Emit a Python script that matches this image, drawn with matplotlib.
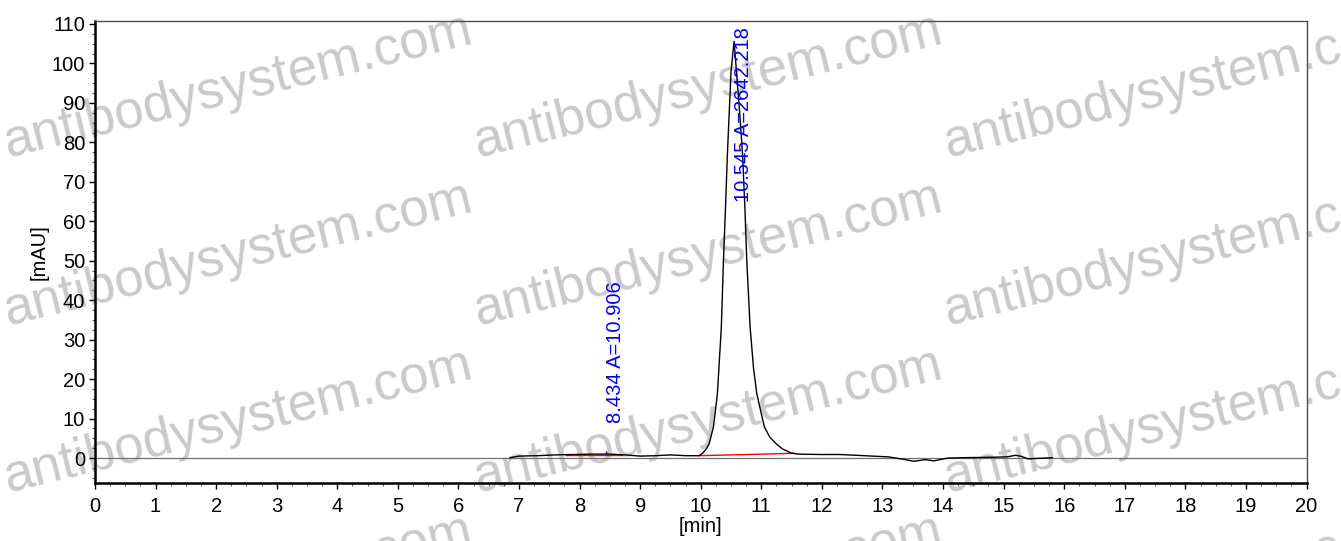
import matplotlib
matplotlib.use("Agg")
import matplotlib.pyplot as plt
from matplotlib.ticker import MultipleLocator

plt.rcParams['font.family'] = ['Liberation Sans', 'DejaVu Sans']

# chromatogram trace (min, mAU)
time_min = [6.85, 7.0, 7.3, 7.6, 7.9, 8.2, 8.5, 8.75, 9.0, 9.25, 9.5, 9.75, 9.97,
            10.03, 10.10, 10.14, 10.21, 10.275, 10.34, 10.375, 10.41, 10.44, 10.50, 10.55,
            10.60, 10.65, 10.69, 10.73, 10.76, 10.815, 10.87, 10.925, 11.05, 11.14, 11.24,
            11.35, 11.49, 11.6, 12.0, 12.3, 12.7, 13.1, 13.3, 13.52, 13.62, 13.7, 13.85,
            14.08, 14.35, 14.8, 15.05, 15.2, 15.3, 15.4, 15.67, 15.8]
signal = [0.1, 0.5, 0.6, 0.8, 0.9, 1.0, 1.0, 0.8, 0.5, 0.6, 0.8, 0.6, 0.6,
          1.2, 2.5, 3.7, 7.9, 16.3, 33.2, 50.0, 64.0, 77.0, 98.0, 105.6,
          96.0, 86.0, 77.0, 63.0, 50.0, 33.2, 23.0, 16.3, 7.9, 5.3, 3.7,
          2.3, 1.3, 1.0, 0.9, 0.9, 0.6, 0.3, -0.2, -0.8, -0.6, -0.4, -0.7,
          0.0, 0.1, 0.2, 0.3, 0.7, 0.4, -0.2, 0.0, 0.1]

# integration baselines (red)
base1_t = [7.77, 8.70]
base1_v = [0.9, 0.9]
base2_t = [9.97, 11.54]
base2_v = [0.6, 1.2]

# peak labels
peak_rt = [8.434, 10.545]
peak_area = ["10.906", "2642.218"]
label_y = [8.8, 65.0]
peak_top = [1.0, 105.6]

fig = plt.figure(figsize=(13.41, 5.41), dpi=100)
ax = fig.add_axes([0.0708, 0.1072, 0.9035, 0.854])
ax.set_facecolor('none')

# watermark tiles behind the axes
for xp in [8, 478, 948]:
    for yp in [-9, 157, 325, 492, 658]:
        fig.text(xp / 1341, 1 - yp / 541, "antibodysystem.com", fontsize=38,
                 color='#cacaca', rotation=13.8, rotation_mode='anchor',
                 ha='left', va='baseline', zorder=-1)

ax.axhline(0, color='#707070', lw=0.9, zorder=1)
ax.plot(time_min, signal, color='black', lw=1.0, zorder=3)
ax.plot(base1_t, base1_v, color='red', lw=1.0, zorder=2)
ax.plot(base2_t, base2_v, color='red', lw=1.0, zorder=2)
ax.vlines(peak_rt[0], peak_top[0], peak_top[0] + 0.9, color='blue', lw=1.0)

for rt, area, ly in zip(peak_rt, peak_area, label_y):
    ax.text(rt, ly, f"{rt:.3f} A={area}", rotation=90, color='blue',
            fontsize=14.5, ha='left', va='bottom', clip_on=False, zorder=4)

ax.set_xlim(0, 20)
ax.set_ylim(-6.32, 110.76)
ax.xaxis.set_major_locator(MultipleLocator(1))
ax.xaxis.set_minor_locator(MultipleLocator(0.25))
ax.yaxis.set_major_locator(MultipleLocator(10))
ax.yaxis.set_minor_locator(MultipleLocator(2.5))
ax.set_yticks(range(0, 111, 10))
ax.tick_params(axis='both', which='major', labelsize=14.5, length=4, width=1.0,
               direction='out')
ax.tick_params(axis='x', which='major', pad=6)
ax.tick_params(axis='y', which='major', pad=3)
ax.tick_params(axis='both', which='minor', length=2.5, width=0.8, color='#606060')
ax.set_xlabel("[min]", fontsize=14.5, labelpad=1)
ax.set_ylabel("[mAU]", fontsize=14.5, labelpad=2)

for side in ['left', 'bottom']:
    ax.spines[side].set_linewidth(1.8)
    ax.spines[side].set_color('black')
for side in ['top', 'right']:
    ax.spines[side].set_linewidth(1.0)
    ax.spines[side].set_color('#505050')

fig.savefig("out.png", dpi=100)
